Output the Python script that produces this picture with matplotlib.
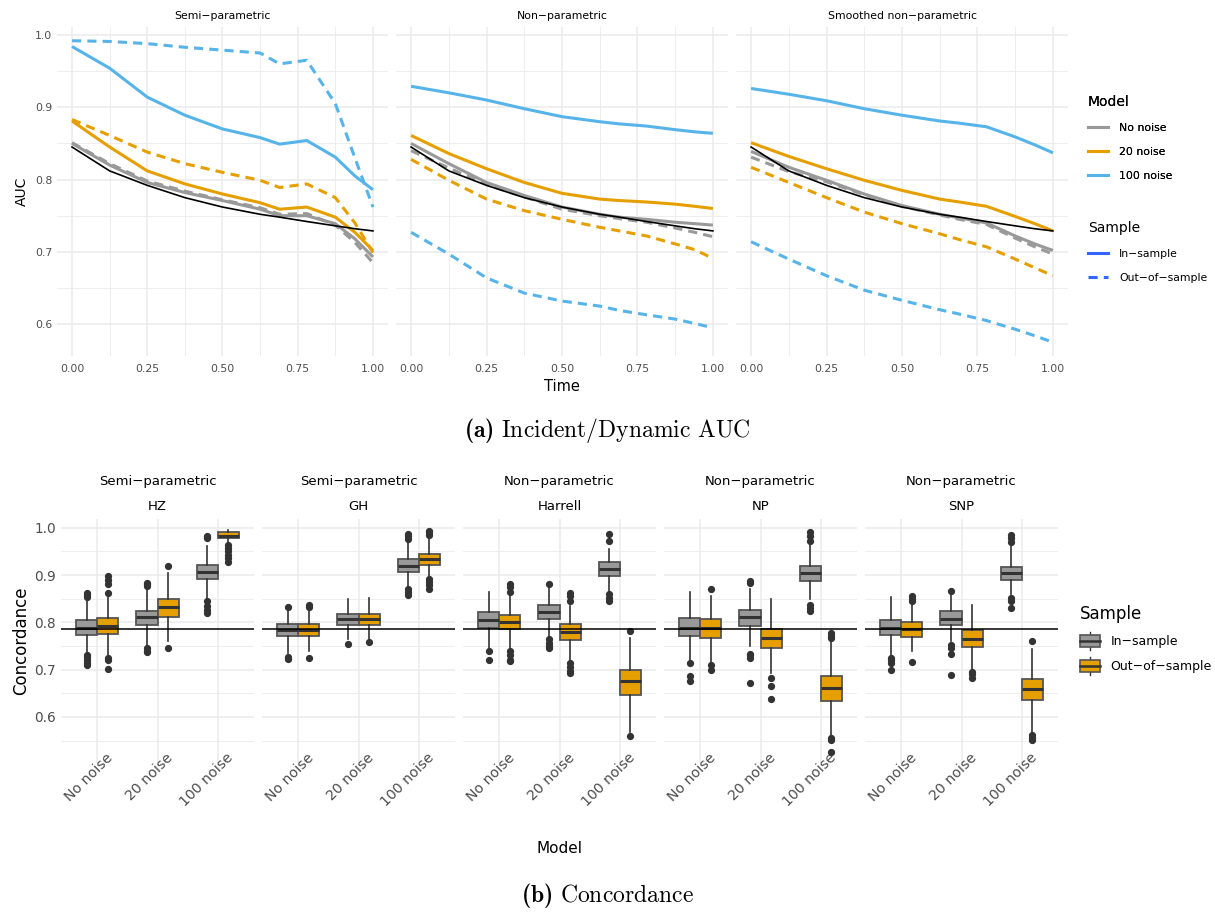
import matplotlib
matplotlib.use("Agg")
import matplotlib.pyplot as plt
from matplotlib.lines import Line2D
from matplotlib.patches import Rectangle
from matplotlib.legend_handler import HandlerBase
from matplotlib.transforms import ScaledTranslation
import numpy as np

plt.rcParams['font.family'] = ['DejaVu Sans']
plt.rcParams['mathtext.fontset'] = 'custom'
plt.rcParams['mathtext.rm'] = 'cmr10'
plt.rcParams['mathtext.bf'] = 'cmb10'

# ---------------- data: (a) time-dependent AUC ----------------
time = [0.0, 0.125, 0.25, 0.375, 0.5, 0.625, 0.69, 0.78, 0.875, 0.94, 1.0]
true_auc = [0.845, 0.812, 0.792, 0.775, 0.762, 0.752, 0.748, 0.742, 0.736, 0.732, 0.729]

auc_facets = ["Semi\u2212parametric", "Non\u2212parametric", "Smoothed non\u2212parametric"]
models = ["No noise", "20 noise", "100 noise"]

# semi-parametric
semi_in = {
    "No noise": [0.850, 0.820, 0.796, 0.782, 0.771, 0.759, 0.750, 0.750, 0.739, 0.718, 0.693],
    "20 noise": [0.881, 0.845, 0.812, 0.794, 0.780, 0.768, 0.759, 0.762, 0.748, 0.727, 0.702],
    "100 noise": [0.984, 0.954, 0.914, 0.889, 0.870, 0.858, 0.849, 0.854, 0.831, 0.805, 0.786],
}
semi_out = {
    "No noise": [0.851, 0.822, 0.798, 0.784, 0.772, 0.761, 0.752, 0.753, 0.737, 0.713, 0.685],
    "20 noise": [0.883, 0.861, 0.838, 0.822, 0.810, 0.799, 0.789, 0.794, 0.775, 0.740, 0.699],
    "100 noise": [0.992, 0.991, 0.988, 0.983, 0.979, 0.975, 0.960, 0.965, 0.905, 0.830, 0.762],
}
# non-parametric
np_in = {
    "No noise": [0.850, 0.822, 0.796, 0.778, 0.762, 0.752, 0.748, 0.745, 0.741, 0.739, 0.737],
    "20 noise": [0.861, 0.836, 0.815, 0.796, 0.781, 0.773, 0.771, 0.769, 0.766, 0.763, 0.760],
    "100 noise": [0.929, 0.920, 0.910, 0.898, 0.887, 0.880, 0.877, 0.874, 0.869, 0.866, 0.864],
}
np_out = {
    "No noise": [0.840, 0.816, 0.793, 0.776, 0.759, 0.750, 0.746, 0.741, 0.733, 0.727, 0.721],
    "20 noise": [0.828, 0.799, 0.773, 0.757, 0.745, 0.734, 0.729, 0.722, 0.711, 0.703, 0.691],
    "100 noise": [0.727, 0.697, 0.664, 0.643, 0.632, 0.625, 0.619, 0.613, 0.607, 0.601, 0.595],
}
# smoothed non-parametric
snp_in = {
    "No noise": [0.839, 0.817, 0.799, 0.780, 0.764, 0.752, 0.747, 0.740, 0.722, 0.711, 0.702],
    "20 noise": [0.851, 0.832, 0.815, 0.799, 0.785, 0.773, 0.769, 0.763, 0.749, 0.739, 0.729],
    "100 noise": [0.926, 0.918, 0.909, 0.898, 0.889, 0.881, 0.878, 0.873, 0.859, 0.848, 0.837],
}
snp_out = {
    "No noise": [0.831, 0.811, 0.797, 0.779, 0.763, 0.751, 0.745, 0.738, 0.719, 0.707, 0.697],
    "20 noise": [0.817, 0.796, 0.775, 0.755, 0.739, 0.725, 0.717, 0.707, 0.690, 0.678, 0.667],
    "100 noise": [0.714, 0.690, 0.667, 0.647, 0.633, 0.620, 0.614, 0.605, 0.593, 0.584, 0.575],
}
auc_in = [semi_in, np_in, snp_in]
auc_out = [semi_out, np_out, snp_out]

# ---------------- data: (b) concordance boxplots ----------------
# each entry: (whislo, q1, med, q3, whishi, fliers)
conc_facets = [("Semi\u2212parametric", "HZ"), ("Semi\u2212parametric", "GH"),
               ("Non\u2212parametric", "Harrell"), ("Non\u2212parametric", "NP"),
               ("Non\u2212parametric", "SNP")]
true_conc = 0.785

conc_in = [
    [(0.735, 0.774, 0.789, 0.804, 0.848, [0.853, 0.858, 0.862, 0.731, 0.726, 0.720, 0.714, 0.710]),
     (0.750, 0.794, 0.811, 0.824, 0.870, [0.876, 0.880, 0.884, 0.745, 0.740, 0.737]),
     (0.849, 0.891, 0.906, 0.921, 0.962, [0.978, 0.980, 0.982, 0.845, 0.835, 0.826, 0.820])],
    [(0.735, 0.772, 0.784, 0.796, 0.828, [0.832, 0.727, 0.722]),
     (0.764, 0.794, 0.806, 0.817, 0.849, [0.755]),
     (0.877, 0.907, 0.920, 0.933, 0.970, [0.977, 0.983, 0.987, 0.870, 0.865, 0.858])],
    [(0.746, 0.789, 0.805, 0.821, 0.865, [0.739, 0.720]),
     (0.771, 0.806, 0.822, 0.837, 0.874, [0.881, 0.764, 0.757, 0.750, 0.745]),
     (0.863, 0.899, 0.912, 0.927, 0.955, [0.971, 0.987, 0.860, 0.852, 0.845])],
    [(0.721, 0.771, 0.789, 0.810, 0.865, [0.713, 0.686, 0.675]),
     (0.750, 0.792, 0.811, 0.826, 0.870, [0.883, 0.888, 0.732, 0.730, 0.725, 0.672]),
     (0.850, 0.888, 0.905, 0.920, 0.965, [0.973, 0.983, 0.990, 0.837, 0.830, 0.824])],
    [(0.728, 0.774, 0.789, 0.805, 0.854, [0.725, 0.720, 0.715, 0.700]),
     (0.760, 0.794, 0.808, 0.823, 0.862, [0.867, 0.753, 0.745, 0.732, 0.689]),
     (0.860, 0.889, 0.904, 0.918, 0.962, [0.970, 0.978, 0.985, 0.852, 0.845, 0.830])],
]
conc_out = [
    [(0.730, 0.775, 0.792, 0.809, 0.855, [0.863, 0.881, 0.890, 0.899, 0.725, 0.720, 0.701]),
     (0.760, 0.811, 0.833, 0.849, 0.905, [0.920, 0.745]),
     (0.965, 0.979, 0.982, 0.991, 0.995, [0.927, 0.935, 0.942, 0.950, 0.957, 0.963])],
    [(0.739, 0.772, 0.783, 0.796, 0.825, [0.832, 0.836, 0.725]),
     (0.764, 0.794, 0.806, 0.818, 0.852, [0.758]),
     (0.899, 0.921, 0.934, 0.945, 0.980, [0.985, 0.990, 0.994, 0.891, 0.886, 0.878, 0.870])],
    [(0.745, 0.785, 0.800, 0.815, 0.855, [0.865, 0.875, 0.882, 0.739, 0.730, 0.720, 0.718]),
     (0.721, 0.763, 0.779, 0.796, 0.835, [0.845, 0.855, 0.863, 0.714, 0.705, 0.697, 0.692]),
     (0.569, 0.647, 0.675, 0.700, 0.767, [0.781, 0.560])],
    [(0.715, 0.767, 0.787, 0.806, 0.855, [0.870, 0.709, 0.700]),
     (0.693, 0.746, 0.766, 0.785, 0.849, [0.682, 0.666, 0.638]),
     (0.560, 0.633, 0.661, 0.686, 0.760, [0.766, 0.772, 0.778, 0.555, 0.551, 0.526])],
    [(0.740, 0.769, 0.785, 0.801, 0.840, [0.845, 0.850, 0.856, 0.716]),
     (0.700, 0.748, 0.764, 0.783, 0.836, [0.696, 0.690, 0.682]),
     (0.565, 0.635, 0.659, 0.681, 0.744, [0.760, 0.562, 0.555, 0.551])],
]

# ---------------- style ----------------
model_colors = {"No noise": "#999999", "20 noise": "#E69F00", "100 noise": "#56B4E9"}
sample_fill = ["#999999", "#E69F00"]
grid_col = "#EBEBEB"
tick_col = "#4D4D4D"

W, H = 1215, 913
fig = plt.figure(figsize=(W / 100, H / 100), dpi=100)


def px_axes(x0, x1, y0, y1):
    return fig.add_axes([x0 / W, 1 - y1 / H, (x1 - x0) / W, (y1 - y0) / H])


def minimal(ax):
    for s in ax.spines.values():
        s.set_visible(False)
    ax.set_facecolor("white")
    ax.tick_params(length=0, colors=tick_col)
    ax.grid(which="major", color=grid_col, lw=1.1, zorder=0)
    ax.grid(which="minor", color=grid_col, lw=0.6, zorder=0)
    ax.set_axisbelow(True)


# ---------------- (a) ----------------
top_x = [(57, 388), (396, 728), (736, 1068)]
for i, (x0, x1) in enumerate(top_x):
    ax = px_axes(x0, x1, 27, 356)
    minimal(ax)
    for m in models:
        ax.plot(time, auc_in[i][m], color=model_colors[m], lw=2.2, solid_capstyle="butt", zorder=3)
        ax.plot(time, auc_out[i][m], color=model_colors[m], lw=2.2, dashes=(3, 2), zorder=3)
    ax.plot(time, true_auc, color="black", lw=1.2, zorder=4)
    ax.set_xlim(-0.05, 1.05)
    ax.set_ylim(0.556, 1.011)
    ax.set_xticks([0, 0.25, 0.5, 0.75, 1.0])
    ax.set_xticklabels(["0.00", "0.25", "0.50", "0.75", "1.00"], fontsize=7.8)
    ax.set_xticks([0.125, 0.375, 0.625, 0.875], minor=True)
    ax.set_yticks([0.6, 0.7, 0.8, 0.9, 1.0])
    ax.set_yticks([0.65, 0.75, 0.85, 0.95], minor=True)
    ax.tick_params(which="minor", length=0)
    ax.tick_params(axis="x", pad=6)
    if i == 0:
        ax.set_yticklabels(["0.6", "0.7", "0.8", "0.9", "1.0"], fontsize=7.8)
        ax.set_ylabel("AUC", fontsize=10, labelpad=4)
    else:
        ax.set_yticklabels([])
    if i == 1:
        ax.set_xlabel("Time", fontsize=10.5, labelpad=3)
    ax.set_title(auc_facets[i], fontsize=7.8, pad=6)

model_handles = [Line2D([], [], color=model_colors[m], lw=2.2) for m in models]
leg1 = fig.legend(model_handles, models, title="Model", loc="upper left",
                  bbox_to_anchor=(1078 / W, 1 - 85 / H), frameon=False, fontsize=7.8,
                  title_fontsize=10, handlelength=1.9, handletextpad=1.0, labelspacing=1.3,
                  alignment="left")
sample_handles = [Line2D([], [], color="#3366FF", lw=2.2),
                  Line2D([], [], color="#3366FF", lw=2.2, dashes=(3, 2))]
leg2 = fig.legend(sample_handles, ["In\u2212sample", "Out\u2212of\u2212sample"], title="Sample",
                  loc="upper left", bbox_to_anchor=(1078 / W, 1 - 211 / H), frameon=False,
                  fontsize=7.8, title_fontsize=10, handlelength=1.9, handletextpad=1.0,
                  labelspacing=1.3, alignment="left")
fig.add_artist(leg1)

fig.text(607 / W, 1 - 430 / H, r"$\mathbf{(a)}\ \mathrm{Incident/Dynamic\ AUC}$",
         ha="center", va="center", fontsize=17)

# ---------------- (b) ----------------
bot_x = [(61, 254), (262, 455), (463, 656), (664, 857), (865, 1058)]
bw = 0.35
for i, (x0, x1) in enumerate(bot_x):
    ax = px_axes(x0, x1, 519, 763)
    minimal(ax)
    for s, data in enumerate([conc_in[i], conc_out[i]]):
        stats = []
        for lo, q1, med, q3, hi, fl in data:
            stats.append(dict(whislo=lo, q1=q1, med=med, q3=q3, whishi=hi, fliers=fl))
        pos = [k + 1 + (s - 0.5) * bw for k in range(3)]
        ax.bxp(stats, positions=pos, widths=bw, patch_artist=True, showcaps=False,
               boxprops=dict(facecolor=sample_fill[s], edgecolor="#555555", lw=1.3),
               medianprops=dict(color="#333333", lw=2.2),
               whiskerprops=dict(color="#333333", lw=1.2),
               flierprops=dict(marker="o", markerfacecolor="#333333", markeredgecolor="#333333",
                               markersize=4.2),
               manage_ticks=False, zorder=3)
    ax.axhline(true_conc, color="black", lw=1.1, zorder=4)
    ax.set_xlim(0.4, 3.6)
    ax.set_ylim(0.5025, 1.0185)
    ax.set_xticks([1, 2, 3])
    ax.set_xticklabels(models, fontsize=10.2, rotation=45, ha="right", va="center",
                       rotation_mode="anchor")
    for lab in ax.get_xticklabels():
        lab.set_transform(lab.get_transform() + ScaledTranslation(0.13, 0.12, fig.dpi_scale_trans))
    ax.set_yticks([0.6, 0.7, 0.8, 0.9, 1.0])
    ax.set_yticks([0.55, 0.65, 0.75, 0.85, 0.95], minor=True)
    ax.tick_params(which="minor", length=0)
    ax.grid(axis="x", which="minor", visible=False)
    if i == 0:
        ax.set_yticklabels(["0.6", "0.7", "0.8", "0.9", "1.0"], fontsize=9.8)
        ax.set_ylabel("Concordance", fontsize=12, labelpad=3)
    else:
        ax.set_yticklabels([])
    cx = (x0 + x1) / 2 / W
    fig.text(cx, 1 - 481 / H, conc_facets[i][0], ha="center", va="center", fontsize=9.5)
    fig.text(cx, 1 - 506 / H, conc_facets[i][1], ha="center", va="center", fontsize=9.5)

fig.text(559 / W, 1 - 848 / H, "Model", ha="center", va="center", fontsize=11)


class BoxHandler(HandlerBase):
    def create_artists(self, legend, orig, xdescent, ydescent, width, height, fontsize, trans):
        x = -xdescent
        cx = x + width / 2
        y0 = -ydescent
        r = Rectangle((x, y0), width, height, facecolor=orig.get_facecolor(),
                      edgecolor="#555555", lw=1.2, transform=trans)
        ym = y0 + height / 2
        med = Line2D([x, x + width], [ym, ym], color="#333333", lw=1.8, transform=trans)
        wh1 = Line2D([cx, cx], [y0 - height * 0.3, y0], color="#333333", lw=1, transform=trans)
        wh2 = Line2D([cx, cx], [y0 + height, y0 + height * 1.3], color="#333333", lw=1, transform=trans)
        return [wh1, wh2, r, med]


box_handles = [Rectangle((0, 0), 1, 1, facecolor=c) for c in sample_fill]
fig.legend(box_handles, ["In\u2212sample", "Out\u2212of\u2212sample"], title="Sample",
           loc="upper left", bbox_to_anchor=(1069 / W, 1 - 594 / H), frameon=False,
           fontsize=9, title_fontsize=12, handlelength=1.6, handleheight=1.05,
           handletextpad=0.8, labelspacing=0.95, alignment="left",
           handler_map={Rectangle: BoxHandler()})

fig.text(607 / W, 1 - 895 / H, r"$\mathbf{(b)}\ \mathrm{Concordance}$",
         ha="center", va="center", fontsize=17)

fig.savefig("out.png", dpi=100, facecolor="white")
